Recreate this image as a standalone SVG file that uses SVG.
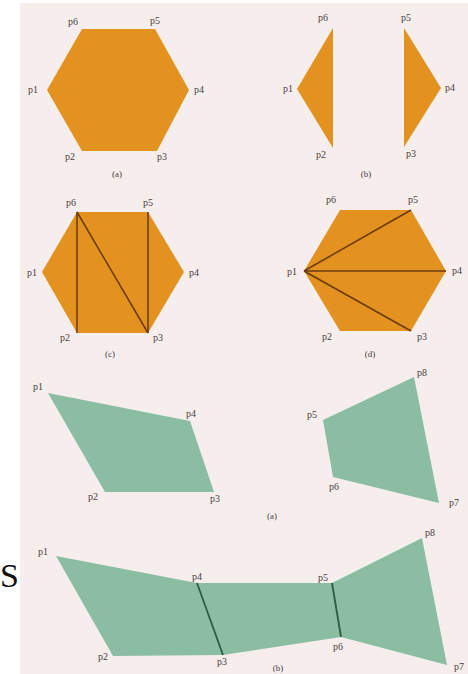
<svg xmlns="http://www.w3.org/2000/svg" width="468" height="674" viewBox="0 0 468 674">
<style>
.lbl{font-family:"Liberation Serif",serif;font-size:10px;fill:#4a4040;text-anchor:middle}
.cap{font-family:"Liberation Serif",serif;font-size:9px;fill:#4a4040;text-anchor:middle}
.or{fill:#e3921f}
.gr{fill:#8bbda3}
.ln{stroke:#6a3a10;stroke-width:1.5;fill:none}
.lg{stroke:#2f5a44;stroke-width:1.8;fill:none}
</style>
<rect width="468" height="674" fill="#ffffff"/>
<rect x="20" y="3" width="448" height="671" fill="#f6eded"/>
<text x="0" y="587" font-family="Liberation Serif,serif" font-size="34" fill="#111">S</text>

<g id="hex-a">
<polygon class="or" points="82,29 155,29 189,90 157,151 82,151 47,90"/>
<text class="lbl" x="73" y="25">p6</text>
<text class="lbl" x="155" y="24">p5</text>
<text class="lbl" x="33" y="93">p1</text>
<text class="lbl" x="199" y="93">p4</text>
<text class="lbl" x="70" y="160">p2</text>
<text class="lbl" x="162" y="160">p3</text>
<text class="cap" x="117" y="177">(a)</text>
</g>

<g id="hex-b">
<polygon class="or" points="333,28 333,148 297,89"/>
<polygon class="or" points="404,28 441,88 404,147"/>
<text class="lbl" x="323" y="21">p6</text>
<text class="lbl" x="406" y="21">p5</text>
<text class="lbl" x="288" y="92">p1</text>
<text class="lbl" x="450" y="91">p4</text>
<text class="lbl" x="321" y="158">p2</text>
<text class="lbl" x="411" y="157">p3</text>
<text class="cap" x="366" y="177">(b)</text>
</g>

<g id="hex-c">
<polygon class="or" points="77,212 148,212 184,272 148,333 77,333 42,272"/>
<text class="lbl" x="71" y="206">p6</text>
<text class="lbl" x="148" y="206">p5</text>
<text class="lbl" x="32" y="276">p1</text>
<text class="lbl" x="194" y="276">p4</text>
<text class="lbl" x="65" y="341">p2</text>
<text class="lbl" x="158" y="341">p3</text>
<text class="cap" x="110" y="357">(c)</text>
</g>

<g id="hex-d">
<polygon class="or" points="340,210 411,210 446,271 411,331 340,331 304,271"/>
<text class="lbl" x="331" y="203">p6</text>
<text class="lbl" x="413" y="203">p5</text>
<text class="lbl" x="292" y="275">p1</text>
<text class="lbl" x="457" y="274">p4</text>
<text class="lbl" x="327" y="340">p2</text>
<text class="lbl" x="422" y="340">p3</text>
<text class="cap" x="370" y="357">(d)</text>
</g>

<g id="poly-a-left">
<polygon class="gr" points="48,393 190,421 214,492 105,492"/>
<text class="lbl" x="38" y="390">p1</text>
<text class="lbl" x="191" y="417">p4</text>
<text class="lbl" x="93" y="500">p2</text>
<text class="lbl" x="215" y="502">p3</text>
</g>

<g id="poly-a-right">
<polygon class="gr" points="414,377 439,503 333,477 323,420"/>
<text class="lbl" x="422" y="376">p8</text>
<text class="lbl" x="312" y="418">p5</text>
<text class="lbl" x="334" y="490">p6</text>
<text class="lbl" x="454" y="506">p7</text>
<text class="cap" x="272" y="519">(a)</text>
</g>

<g id="poly-b">
<polygon class="gr" points="56,556 197,583 332,583 422,538 447,665 341,637 223,655 113,656"/>
<text class="lbl" x="43" y="555">p1</text>
<text class="lbl" x="197" y="580">p4</text>
<text class="lbl" x="323" y="581">p5</text>
<text class="lbl" x="430" y="536">p8</text>
<text class="lbl" x="103" y="660">p2</text>
<text class="lbl" x="222" y="665">p3</text>
<text class="lbl" x="338" y="650">p6</text>
<text class="lbl" x="459" y="670">p7</text>
<text class="cap" x="278" y="671" font-size="8">(b)</text>
</g>

<g id="connectors">
<line class="ln" x1="77" y1="212" x2="77" y2="333"/>
<line class="ln" x1="77" y1="212" x2="148" y2="333"/>
<line class="ln" x1="148" y1="212" x2="148" y2="333"/>
<line class="ln" x1="304" y1="271" x2="411" y2="210"/>
<line class="ln" x1="304" y1="271" x2="446" y2="271"/>
<line class="ln" x1="304" y1="271" x2="411" y2="331"/>
<line class="lg" x1="197" y1="583" x2="223" y2="655"/>
<line class="lg" x1="332" y1="583" x2="341" y2="637"/>
</g>
</svg>
